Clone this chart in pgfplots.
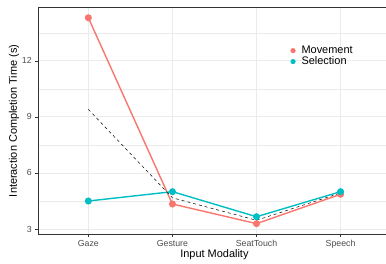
\documentclass[border=0pt]{standalone}
\usepackage{pgfplots}
\pgfplotsset{compat=1.18}
\usepackage{fontspec}
\setmainfont{Liberation Sans}
\definecolor{cMove}{HTML}{F8766D}
\definecolor{cSel}{HTML}{00BFC4}
\definecolor{gridc}{HTML}{EBEBEB}
\definecolor{txt}{HTML}{4D4D4D}
\definecolor{framec}{HTML}{333333}
\begin{document}
\begin{tikzpicture}
\begin{axis}[
  name=ax, at={(0,0)}, anchor=south west,
  scale only axis, width=348.1bp, height=227bp,
  xmin=-0.6, xmax=3.54, ymin=2.72, ymax=14.86,
  xtick={0,1,2,3}, xticklabels={Gaze,Gesture,SeatTouch,Speech},
  ytick={3,6,9,12}, minor ytick={4.5,7.5,10.5,13.5},
  grid=both,
  major grid style={gridc, line width=0.8pt},
  minor grid style={gridc, line width=0.4pt},
  axis line style={draw=none},
  tick align=outside, tick pos=left,
  major tick length=2.75bp, minor tick length=0pt,
  tick style={framec, line width=0.5pt},
  ticklabel style={font=\fontsize{8.8}{10}\selectfont, text=txt},
  /pgf/number format/assume math mode=true,
  xlabel={Input Modality}, ylabel={Interaction Completion Time (s)},
  every axis x label/.style={at={(axis description cs:0.507,-0.091)}, anchor=center, font=\fontsize{11}{13}\selectfont},
  every axis y label/.style={at={(axis description cs:-0.0687,0.5)}, anchor=center, rotate=90, font=\fontsize{11}{13}\selectfont},
  legend cell align=left,
  legend style={at={(axis description cs:0.725,0.785)}, anchor=west, draw=none, fill=none,
    inner sep=0pt, row sep=0pt, column sep=0pt,
    font=\fontsize{11}{13}\selectfont,
    nodes={inner sep=1pt, text height=7.5pt, text depth=1.5pt}},
]
\addplot[cMove, line width=1.4pt, mark=*, mark size=2.8pt, mark options={solid}, forget plot]
  coordinates {(0,14.3) (1,4.34) (2,3.29) (3,4.86)};
\addplot[cSel, line width=1.4pt, mark=*, mark size=2.8pt, mark options={solid}, forget plot]
  coordinates {(0,4.5) (1,5.0) (2,3.66) (3,5.0)};
\addplot[black, line width=0.5pt, dash pattern=on 3pt off 3pt, forget plot]
  coordinates {(0,9.4) (1,4.67) (2,3.47) (3,4.93)};
\addlegendimage{legend image code/.code={\path[draw=none,fill=none] (0,-2pt) rectangle (10pt,2pt); \fill[cMove,draw=none] (2.5pt,0) circle (2.6pt);}}
\addlegendentry{Movement}
\addlegendimage{legend image code/.code={\path[draw=none,fill=none] (0,-2pt) rectangle (10pt,2pt); \fill[cSel,draw=none] (2.5pt,0) circle (2.6pt);}}
\addlegendentry{Selection}
\end{axis}
\draw[framec, line width=0.7pt] (ax.south east) -- (ax.south west) -- (ax.north west) -- (ax.north east);
\pgfresetboundingbox
\useasboundingbox ([shift={(-37.9bp,-29.7bp)}]ax.south west) rectangle ++(386bp,264bp);
\end{tikzpicture}
\end{document}
